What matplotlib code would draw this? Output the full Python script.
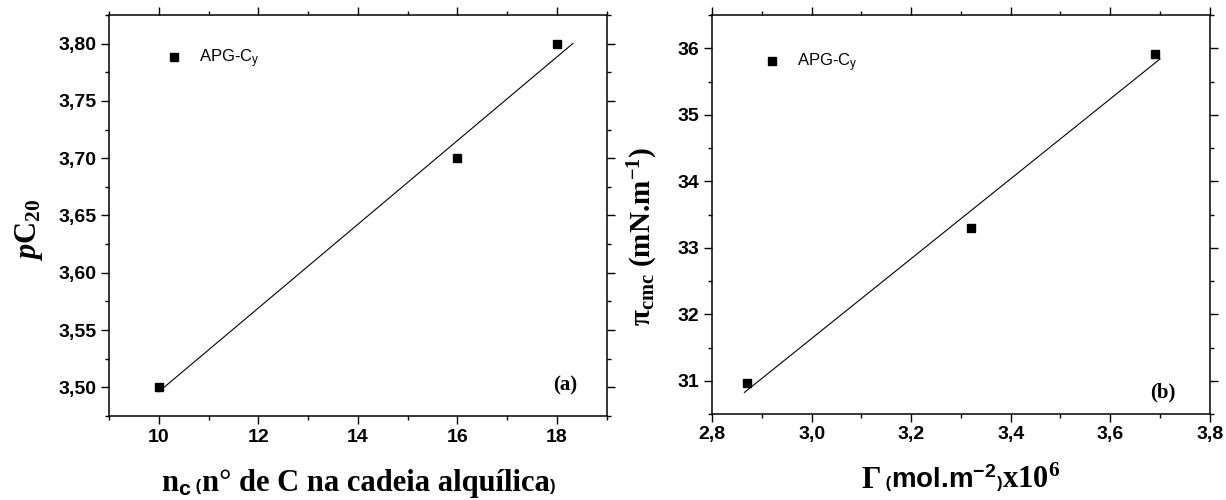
import numpy as np
import matplotlib
matplotlib.use('Agg')
import matplotlib.pyplot as plt
from matplotlib.ticker import MultipleLocator, FuncFormatter
from matplotlib.offsetbox import TextArea, HPacker, AnchoredOffsetbox

plt.rcParams['mathtext.fontset'] = 'custom'
plt.rcParams['mathtext.rm'] = 'Liberation Serif:bold'
plt.rcParams['mathtext.it'] = 'Liberation Serif:italic:bold'

SERIF = 'Liberation Serif'
SANS = 'Liberation Sans'

# (a) pC20 em funcao do numero de carbonos
n_carbonos = [10, 16, 18]
pc20 = [3.50, 3.70, 3.80]

# (b) pi_cmc em funcao da concentracao superficial
gama = [2.87, 3.32, 3.69]
pi_cmc = [30.97, 33.30, 35.92]


def virgula(casas):
    return FuncFormatter(lambda v, p: f'{v:.{casas}f}'.replace('.', ','))


def estilo_eixo(ax, maj_x, min_x, maj_y, min_y, fmt_x, fmt_y):
    ax.xaxis.set_major_locator(MultipleLocator(maj_x))
    ax.xaxis.set_minor_locator(MultipleLocator(min_x))
    ax.yaxis.set_major_locator(MultipleLocator(maj_y))
    ax.yaxis.set_minor_locator(MultipleLocator(min_y))
    ax.xaxis.set_major_formatter(fmt_x)
    ax.yaxis.set_major_formatter(fmt_y)
    ax.tick_params(which='both', direction='out', top=True, right=True,
                   width=1.0, colors='black')
    ax.tick_params(which='major', length=5.5)
    ax.tick_params(which='minor', length=2.8)
    for lab in ax.get_xticklabels() + ax.get_yticklabels():
        lab.set_fontfamily(SANS)
        lab.set_fontweight('bold')
        lab.set_fontsize(14)
    for s in ax.spines.values():
        s.set_linewidth(1.1)


def ajuste(ax, x, y, x_ini, x_fim):
    coef = np.polyfit(x, y, 1)
    xf = np.linspace(x_ini, x_fim, 50)
    ax.plot(xf, np.polyval(coef, xf), color='black', lw=0.8)


def pontos(ax, x, y, anchor):
    ax.plot(x, y, 's', color='black', ms=5.5, label=r'APG-C$\mathregular{_y}$')
    ax.legend(loc='upper left', bbox_to_anchor=anchor, frameon=False,
              prop={'family': SANS, 'size': 12}, handlelength=1.0,
              handletextpad=1.0, borderaxespad=0, numpoints=1)


def rotulo_x(ax, partes, y=-0.13):
    caixas = []
    for texto, fam, tam in partes:
        caixas.append(TextArea(texto, textprops=dict(family=fam, size=tam,
                                                     weight='bold', color='black')))
    pack = HPacker(children=caixas, align='baseline', pad=0, sep=0)
    box = AnchoredOffsetbox(loc='upper center', child=pack, pad=0,
                            frameon=False, bbox_to_anchor=(0.5, y),
                            bbox_transform=ax.transAxes, borderpad=0)
    ax.add_artist(box)


fig = plt.figure(figsize=(12.26, 5.0), dpi=100)
ax1 = fig.add_axes([0.0889, 0.168, 0.406, 0.802])
ax2 = fig.add_axes([0.5808, 0.172, 0.406, 0.798])

# painel (a)
pontos(ax1, n_carbonos, pc20, (0.10, 0.935))
ajuste(ax1, n_carbonos, pc20, min(n_carbonos), max(n_carbonos) + 0.32)
ax1.set_xlim(9, 19)
ax1.set_ylim(3.475, 3.825)
estilo_eixo(ax1, 2, 1, 0.05, 0.025, virgula(0), virgula(2))
ax1.set_ylabel(r'$\mathit{p}\mathregular{C_{20}}$', family=SERIF,
               weight='bold', fontsize=22)
ax1.yaxis.set_label_coords(-0.128, 0.465)
ax1.text(0.94, 0.077, '(a)', transform=ax1.transAxes, ha='right',
         va='center', family=SERIF, weight='bold', fontsize=15)
rotulo_x(ax1, [('n', SERIF, 22),
               (r'$\mathregular{_c}$', SANS, 22),
               (' (', SANS, 12),
               ('n° de C na cadeia alquílica', SERIF, 22),
               (')', SANS, 12)])

# painel (b)
pontos(ax2, gama, pi_cmc, (0.09, 0.925))
ajuste(ax2, gama, pi_cmc, min(gama) - 0.005, max(gama) + 0.01)
ax2.set_xlim(2.8, 3.8)
ax2.set_ylim(30.5, 36.5)
estilo_eixo(ax2, 0.2, 0.1, 1, 0.5, virgula(1), virgula(0))
ax2.set_ylabel(r'π$\mathregular{_{cmc}}$ (mN.m$\mathregular{^{-1}}$)',
               family=SERIF, weight='bold', fontsize=21)
ax2.yaxis.set_label_coords(-0.104, 0.445)
ax2.text(0.932, 0.055, '(b)', transform=ax2.transAxes, ha='right',
         va='center', family=SERIF, weight='bold', fontsize=15)
rotulo_x(ax2, [('Γ', SERIF, 22),
               (' (', SANS, 12),
               (r'mol.m$\mathregular{^{-2}}$', SANS, 20),
               (')', SANS, 12),
               (r'x10$\mathregular{^6}$', SERIF, 22)])

fig.savefig('out.png', dpi=100)
